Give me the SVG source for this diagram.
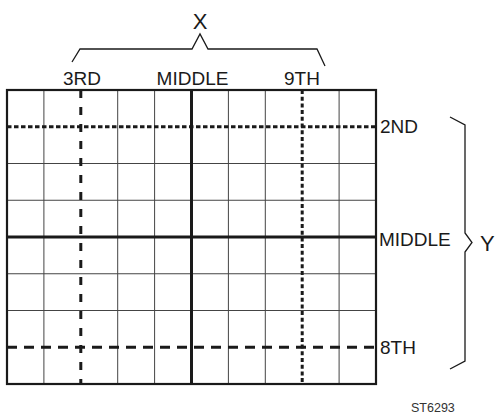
<svg xmlns="http://www.w3.org/2000/svg" width="498" height="414" viewBox="0 0 498 414">
<style>
text{font-family:"Liberation Sans",Arial,sans-serif;fill:#1a1a1a}
.lbl{font-size:19px}
.big{font-size:22px}
.grid{stroke:#444;stroke-width:1;fill:none}
.frame{stroke:#1a1a1a;stroke-width:2.2;fill:none}
.mid{stroke:#1a1a1a;stroke-width:3;fill:none}
.d1{stroke:#1a1a1a;stroke-width:3;stroke-dasharray:4.5 2.5;fill:none}
.d2{stroke:#1a1a1a;stroke-width:3;stroke-dasharray:8 9;fill:none}
.d3{stroke:#1a1a1a;stroke-width:3;stroke-dasharray:4 2.7;fill:none}
.d4{stroke:#1a1a1a;stroke-width:3;stroke-dasharray:10 7;fill:none}
.br{stroke:#1a1a1a;stroke-width:1.3;fill:none;stroke-linejoin:miter}
</style>
<g id="grid">
<path class="grid" d="M43.9 90V384M117.7 90V384M154.6 90V384M228.4 90V384M265.3 90V384M339.1 90V384M7 163.5H376M7 200.25H376M7 273.75H376M7 310.5H376"/>
</g>
<g id="connectors">
<path class="d1" d="M7 126.75H376"/>
<path class="d4" d="M7 347.25H376"/>
<path class="d2" d="M80.8 90V384"/>
<path class="d3" d="M302.2 90V384"/>
<path class="mid" d="M191.5 90V384M7 237H376"/>
<rect class="frame" x="7" y="90" width="369" height="294"/>
<path class="br" d="M72 62L80 49H192L200 34L208 49H317L325 66"/>
<path class="br" d="M450 117L465 125V233L472 242.5L465 252V361L450 369"/>
</g>
<g id="labels">
<text class="big" x="200" y="29" text-anchor="middle">X</text>
<text class="lbl" x="82" y="85" text-anchor="middle">3RD</text>
<text class="lbl" x="192.5" y="85" text-anchor="middle">MIDDLE</text>
<text class="lbl" x="302" y="85" text-anchor="middle">9TH</text>
<text class="lbl" x="380" y="132.5">2ND</text>
<text class="lbl" x="379" y="245.5">MIDDLE</text>
<text class="lbl" x="380" y="354">8TH</text>
<text class="big" x="480" y="251">Y</text>
<text x="411" y="412" style="font-size:12.5px;fill:#333">ST6293</text>
</g>
</svg>
